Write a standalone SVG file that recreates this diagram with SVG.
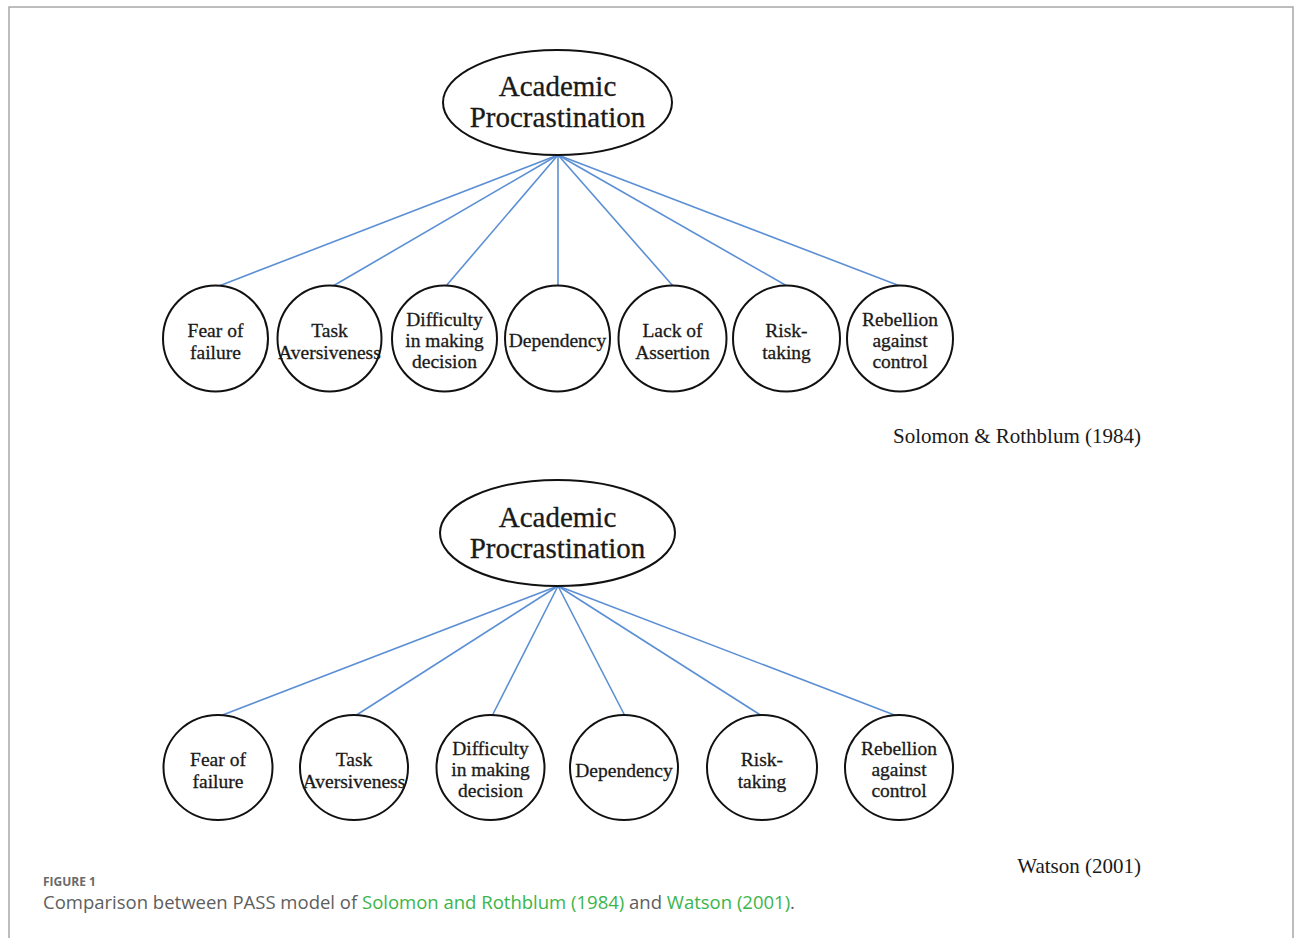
<svg xmlns="http://www.w3.org/2000/svg" width="1295" height="938" viewBox="0 0 1295 938">
<style>
.frame{fill:none;stroke:#a8a8a8;stroke-width:1.5}
.node{fill:#fff;stroke:#111;stroke-width:2}
.lbl{font-family:"Liberation Serif","Times New Roman",serif;font-size:19.5px;fill:#1a1a1a;stroke:#1a1a1a;stroke-width:0.3;text-anchor:middle}
.big{font-family:"Liberation Serif","Times New Roman",serif;font-size:29px;fill:#1a1a1a;stroke:#1a1a1a;stroke-width:0.3;text-anchor:middle}
.cite{font-family:"Liberation Serif","Times New Roman",serif;font-size:21px;fill:#1a1a1a;text-anchor:end}
.edge{stroke:#5b8fd4;stroke-width:1.6;fill:none}
.figt{font-family:"Open Sans","Liberation Sans",sans-serif;font-size:12px;font-weight:bold;fill:#6a6a6a}
.cap{font-family:"Open Sans","Liberation Sans",sans-serif;font-size:18px;fill:#5e5e5e}
.link{fill:#3bb54a}
</style>
<rect width="1295" height="938" fill="#fff"/>
<polyline class="frame" points="9,938 9,7 1293,7 1293,938"/>

<g id="connectors">
  <line class="edge" x1="558" y1="155" x2="219" y2="286"/>
  <line class="edge" x1="558" y1="155" x2="333" y2="286"/>
  <line class="edge" x1="558" y1="155" x2="446" y2="286"/>
  <line class="edge" x1="558" y1="155" x2="558" y2="286"/>
  <line class="edge" x1="558" y1="155" x2="673" y2="286"/>
  <line class="edge" x1="558" y1="155" x2="787" y2="286"/>
  <line class="edge" x1="558" y1="155" x2="900" y2="286"/>
  <line class="edge" x1="558" y1="586" x2="220" y2="716"/>
  <line class="edge" x1="558" y1="586" x2="355" y2="716"/>
  <line class="edge" x1="558" y1="586" x2="492" y2="716"/>
  <line class="edge" x1="558" y1="586" x2="625" y2="716"/>
  <line class="edge" x1="558" y1="586" x2="762" y2="716"/>
  <line class="edge" x1="558" y1="586" x2="897" y2="716"/>
</g>

<g id="top-root">
  <ellipse class="node" cx="557.5" cy="102.5" rx="114.5" ry="52.5"/>
  <text class="big" x="557.5" y="95.5">Academic</text>
  <text class="big" x="557.5" y="126.5">Procrastination</text>
</g>
<g id="top-fear">
  <ellipse class="node" cx="215.5" cy="338.5" rx="52.5" ry="53"/>
  <text class="lbl" x="215.5" y="337">Fear of</text>
  <text class="lbl" x="215.5" y="359">failure</text>
</g>
<g id="top-task">
  <ellipse class="node" cx="329.5" cy="338.5" rx="52" ry="53"/>
  <text class="lbl" x="329.5" y="337">Task</text>
  <text class="lbl" x="329.5" y="359">Aversiveness</text>
</g>
<g id="top-difficulty">
  <ellipse class="node" cx="444.5" cy="338.5" rx="52.5" ry="53"/>
  <text class="lbl" x="444.5" y="326">Difficulty</text>
  <text class="lbl" x="444.5" y="347">in making</text>
  <text class="lbl" x="444.5" y="368">decision</text>
</g>
<g id="top-dependency">
  <ellipse class="node" cx="557.5" cy="338.5" rx="52.5" ry="53"/>
  <text class="lbl" x="557.5" y="347">Dependency</text>
</g>
<g id="top-assertion">
  <ellipse class="node" cx="672.5" cy="338.5" rx="54" ry="53"/>
  <text class="lbl" x="672.5" y="337">Lack of</text>
  <text class="lbl" x="672.5" y="359">Assertion</text>
</g>
<g id="top-risk">
  <ellipse class="node" cx="786.5" cy="338.5" rx="53.5" ry="53"/>
  <text class="lbl" x="786.5" y="337">Risk-</text>
  <text class="lbl" x="786.5" y="359">taking</text>
</g>
<g id="top-rebellion">
  <ellipse class="node" cx="900" cy="338.5" rx="53" ry="53"/>
  <text class="lbl" x="900" y="326">Rebellion</text>
  <text class="lbl" x="900" y="347">against</text>
  <text class="lbl" x="900" y="368">control</text>
</g>
<text class="cite" x="1141" y="443">Solomon &amp; Rothblum (1984)</text>

<g id="bottom-root">
  <ellipse class="node" cx="557.5" cy="533" rx="117.5" ry="53"/>
  <text class="big" x="557.5" y="527">Academic</text>
  <text class="big" x="557.5" y="558">Procrastination</text>
</g>
<g id="bottom-fear">
  <ellipse class="node" cx="218" cy="767.5" rx="54.5" ry="52.5"/>
  <text class="lbl" x="218" y="766">Fear of</text>
  <text class="lbl" x="218" y="788">failure</text>
</g>
<g id="bottom-task">
  <ellipse class="node" cx="354" cy="767.5" rx="54" ry="52.5"/>
  <text class="lbl" x="354" y="766">Task</text>
  <text class="lbl" x="354" y="788">Aversiveness</text>
</g>
<g id="bottom-difficulty">
  <ellipse class="node" cx="490.5" cy="767.5" rx="54" ry="52.5"/>
  <text class="lbl" x="490.5" y="755">Difficulty</text>
  <text class="lbl" x="490.5" y="776">in making</text>
  <text class="lbl" x="490.5" y="797">decision</text>
</g>
<g id="bottom-dependency">
  <ellipse class="node" cx="624" cy="767.5" rx="54" ry="52.5"/>
  <text class="lbl" x="624" y="777">Dependency</text>
</g>
<g id="bottom-risk">
  <ellipse class="node" cx="762" cy="767.5" rx="55" ry="52.5"/>
  <text class="lbl" x="762" y="766">Risk-</text>
  <text class="lbl" x="762" y="788">taking</text>
</g>
<g id="bottom-rebellion">
  <ellipse class="node" cx="899" cy="767.5" rx="54" ry="52.5"/>
  <text class="lbl" x="899" y="755">Rebellion</text>
  <text class="lbl" x="899" y="776">against</text>
  <text class="lbl" x="899" y="797">control</text>
</g>
<text class="cite" x="1141" y="873">Watson (2001)</text>

<text class="figt" x="43" y="886">FIGURE 1</text>
<text class="cap" x="43" y="909" textLength="752" lengthAdjust="spacingAndGlyphs">Comparison between PASS model of <tspan class="link">Solomon and Rothblum (1984)</tspan> and <tspan class="link">Watson (2001)</tspan>.</text>
</svg>
